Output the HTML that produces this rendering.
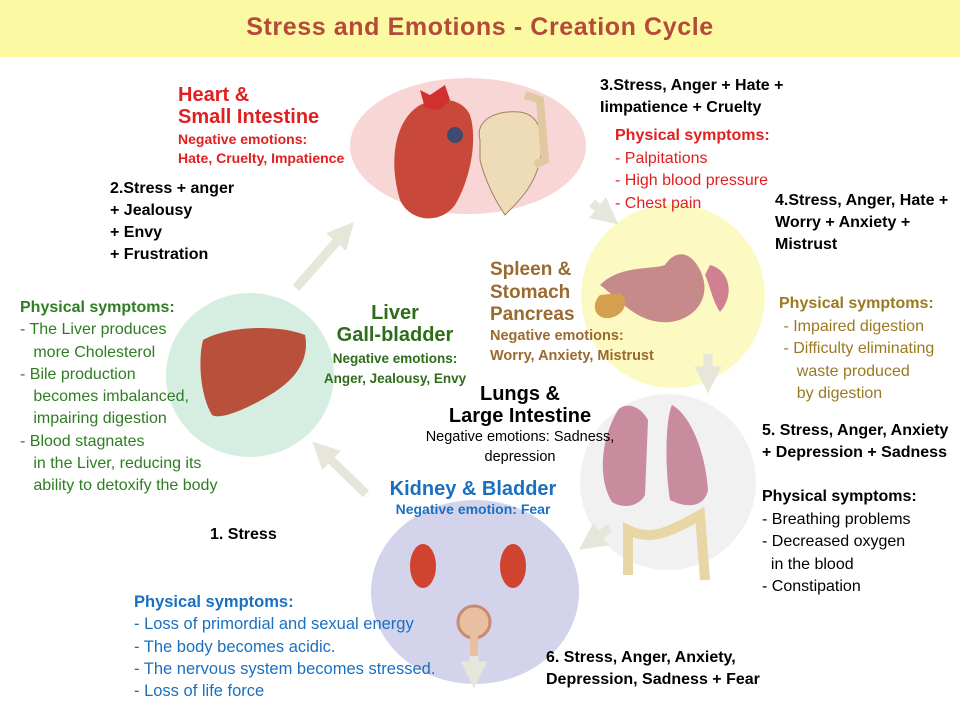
<!DOCTYPE html>
<html><head><meta charset="utf-8"><style>
html,body{margin:0;padding:0;width:960px;height:720px;overflow:hidden;background:#fff;font-family:"Liberation Sans",sans-serif}
.t{position:absolute;white-space:nowrap;font-size:16px;line-height:22px;letter-spacing:0}
.b{font-weight:bold}
</style></head><body>
<div style="position:absolute;left:0;top:0;width:960px;height:57px;background:#fbf9a2"></div>
<div class="t b" style="left:0;width:960px;text-align:center;top:12px;font-size:25px;line-height:30px;color:#b5493a;letter-spacing:0.6px">Stress and Emotions - Creation Cycle</div>
<svg width="960" height="720" style="position:absolute;left:0;top:0">
<defs><marker id="a" markerWidth="3" markerHeight="3" refX="1.5" refY="1.5" orient="auto"><path d="M0,0L3,1.5L0,3z" fill="#e6e6da"/></marker></defs>
<ellipse cx="468" cy="146" rx="118" ry="68" fill="#f9d6d6"/>
<circle cx="673" cy="296" r="92" fill="#fcfac2"/>
<circle cx="668" cy="482" r="88" fill="#f1f1f1"/>
<ellipse cx="475" cy="592" rx="104" ry="92" fill="#d4d3ec"/>
<ellipse cx="250" cy="375" rx="84" ry="82" fill="#d6ede1"/>
<g stroke="#e6e6da" stroke-width="9" fill="none" marker-end="url(#a)">
<line x1="296" y1="288" x2="345" y2="232"/>
<line x1="592" y1="203" x2="608" y2="216"/>
<line x1="708" y1="354" x2="708" y2="380"/>
<line x1="610" y1="528" x2="590" y2="542"/>
<line x1="366" y1="494" x2="322" y2="451"/>
<line x1="474" y1="650" x2="474" y2="675"/>
</g>
<path d="M420,105 C395,120 388,160 400,200 C410,222 440,225 455,205 C470,180 478,140 470,115 C462,98 440,96 420,105z" fill="#c8483a"/>
<path d="M420,90 L430,95 L445,85 L450,100 L440,110 L425,108z" fill="#d03030"/>
<circle cx="455" cy="135" r="8" fill="#404a70"/>
<path d="M480,140 C475,120 495,110 520,112 C540,115 545,135 540,160 C535,185 520,200 505,215 C495,200 485,180 480,160z" fill="#eedcb8" stroke="#a08060" stroke-width="1"/>
<path d="M525,95 L540,100 L545,160 L535,165" stroke="#e0c8a0" stroke-width="8" fill="none"/>
<path d="M600,285 C620,265 650,270 665,265 C675,250 690,250 700,270 C715,300 690,325 660,322 C635,320 620,300 600,285z" fill="#c78a8a"/>
<path d="M600,295 C590,305 595,320 610,318 C625,315 630,300 620,293z" fill="#d4a050"/>
<path d="M710,265 C730,270 735,295 720,312 C712,300 710,285 705,275z" fill="#d08090"/>
<path d="M618,410 C600,440 598,480 612,502 C625,510 640,505 645,495 L648,420 C640,405 625,402 618,410z" fill="#c98b9e"/>
<path d="M672,405 C665,420 665,470 670,500 C690,510 705,505 708,490 C705,450 690,415 672,405z" fill="#c98b9e"/>
<path d="M628,575 L628,530 C650,540 665,535 700,515 L705,580" stroke="#e8d6a4" stroke-width="10" fill="none"/>
<path d="M203,340 C230,325 280,325 305,335 C310,360 295,380 270,395 C245,410 220,420 212,415 C200,395 198,360 203,340z" fill="#b8503c"/>
<ellipse cx="423" cy="566" rx="13" ry="22" fill="#d0432e"/>
<ellipse cx="513" cy="566" rx="13" ry="22" fill="#d0432e"/>
<circle cx="474" cy="622" r="16" fill="#e8c0a0" stroke="#c88a70" stroke-width="3"/>
<rect x="470" y="636" width="8" height="20" fill="#e8c0a0"/>
</svg>
<div class="t b" style="left:178px;top:84px;font-size:20px;color:#e02020;line-height:22px">Heart &amp;<br>Small Intestine</div>
<div class="t b" style="left:178px;top:130px;font-size:14px;color:#e02020;line-height:19px">Negative emotions:<br>Hate, Cruelty, Impatience</div>
<div class="t b" style="left:600px;top:75px;line-height:22px">3.Stress, Anger + Hate +<br>Iimpatience + Cruelty</div>
<div class="t" style="left:615px;top:125px;color:#e02020;line-height:22.5px"><b>Physical symptoms:</b><br>- Palpitations<br>- High blood pressure<br>- Chest pain</div>
<div class="t b" style="left:110px;top:178px;line-height:22px">2.Stress + anger<br>+ Jealousy<br>+ Envy<br>+ Frustration</div>
<div class="t b" style="left:775px;top:190px;line-height:22px">4.Stress, Anger, Hate +<br>Worry + Anxiety +<br>Mistrust</div>
<div class="t b" style="left:490px;top:259px;font-size:19px;color:#9a6a30;line-height:22.5px">Spleen &amp;<br>Stomach<br>Pancreas</div>
<div class="t b" style="left:490px;top:326px;font-size:14.5px;color:#9a6a30;line-height:20px">Negative emotions:<br>Worry, Anxiety, Mistrust</div>
<div class="t" style="left:779px;top:293px;color:#9a7a20;line-height:22.5px"><b>Physical symptoms:</b><br>&nbsp;- Impaired digestion<br>&nbsp;- Difficulty eliminating<br>&nbsp;&nbsp;&nbsp;&nbsp;waste produced<br>&nbsp;&nbsp;&nbsp;&nbsp;by digestion</div>
<div class="t" style="left:20px;top:297px;color:#2e7d22;line-height:22.3px"><b>Physical symptoms:</b><br>- The Liver produces<br>&nbsp;&nbsp;&nbsp;more Cholesterol<br>- Bile production<br>&nbsp;&nbsp;&nbsp;becomes imbalanced,<br>&nbsp;&nbsp;&nbsp;impairing digestion<br>- Blood stagnates<br>&nbsp;&nbsp;&nbsp;in the Liver, reducing its<br>&nbsp;&nbsp;&nbsp;ability to detoxify the body</div>
<div class="t b" style="left:305px;top:302px;width:180px;text-align:center;font-size:20px;color:#2e6d1a;line-height:22px">Liver<br>Gall-bladder</div>
<div class="t b" style="left:305px;top:349px;width:180px;text-align:center;font-size:13.5px;color:#2e6d1a;line-height:20px">Negative emotions:<br>Anger, Jealousy, Envy</div>
<div class="t b" style="left:410px;top:383px;width:220px;text-align:center;font-size:20px;line-height:22px">Lungs &amp;<br>Large Intestine</div>
<div class="t" style="left:410px;top:427px;width:220px;text-align:center;font-size:14.5px;line-height:20px">Negative emotions: Sadness,<br>depression</div>
<div class="t b" style="left:762px;top:420px;line-height:22px">5. Stress, Anger, Anxiety<br>+ Depression + Sadness</div>
<div class="t" style="left:762px;top:486px;line-height:22.5px"><b>Physical symptoms:</b><br>- Breathing problems<br>- Decreased oxygen<br>&nbsp;&nbsp;in the blood<br>- Constipation</div>
<div class="t b" style="left:363px;top:478px;width:220px;text-align:center;font-size:20px;color:#1a70c0;line-height:22px">Kidney &amp; Bladder</div>
<div class="t b" style="left:363px;top:500px;width:220px;text-align:center;font-size:14px;color:#1a70c0;line-height:18px">Negative emotion: Fear</div>
<div class="t b" style="left:210px;top:524px">1. Stress</div>
<div class="t" style="left:134px;top:591px;color:#1a70c0;line-height:22.3px;font-size:16.5px"><b>Physical symptoms:</b><br>- Loss of primordial and sexual energy<br>- The body becomes acidic.<br>- The nervous system becomes stressed.<br>- Loss of life force</div>
<div class="t b" style="left:546px;top:647px;line-height:22px">6. Stress, Anger, Anxiety,<br>Depression, Sadness + Fear</div>
</body></html>
